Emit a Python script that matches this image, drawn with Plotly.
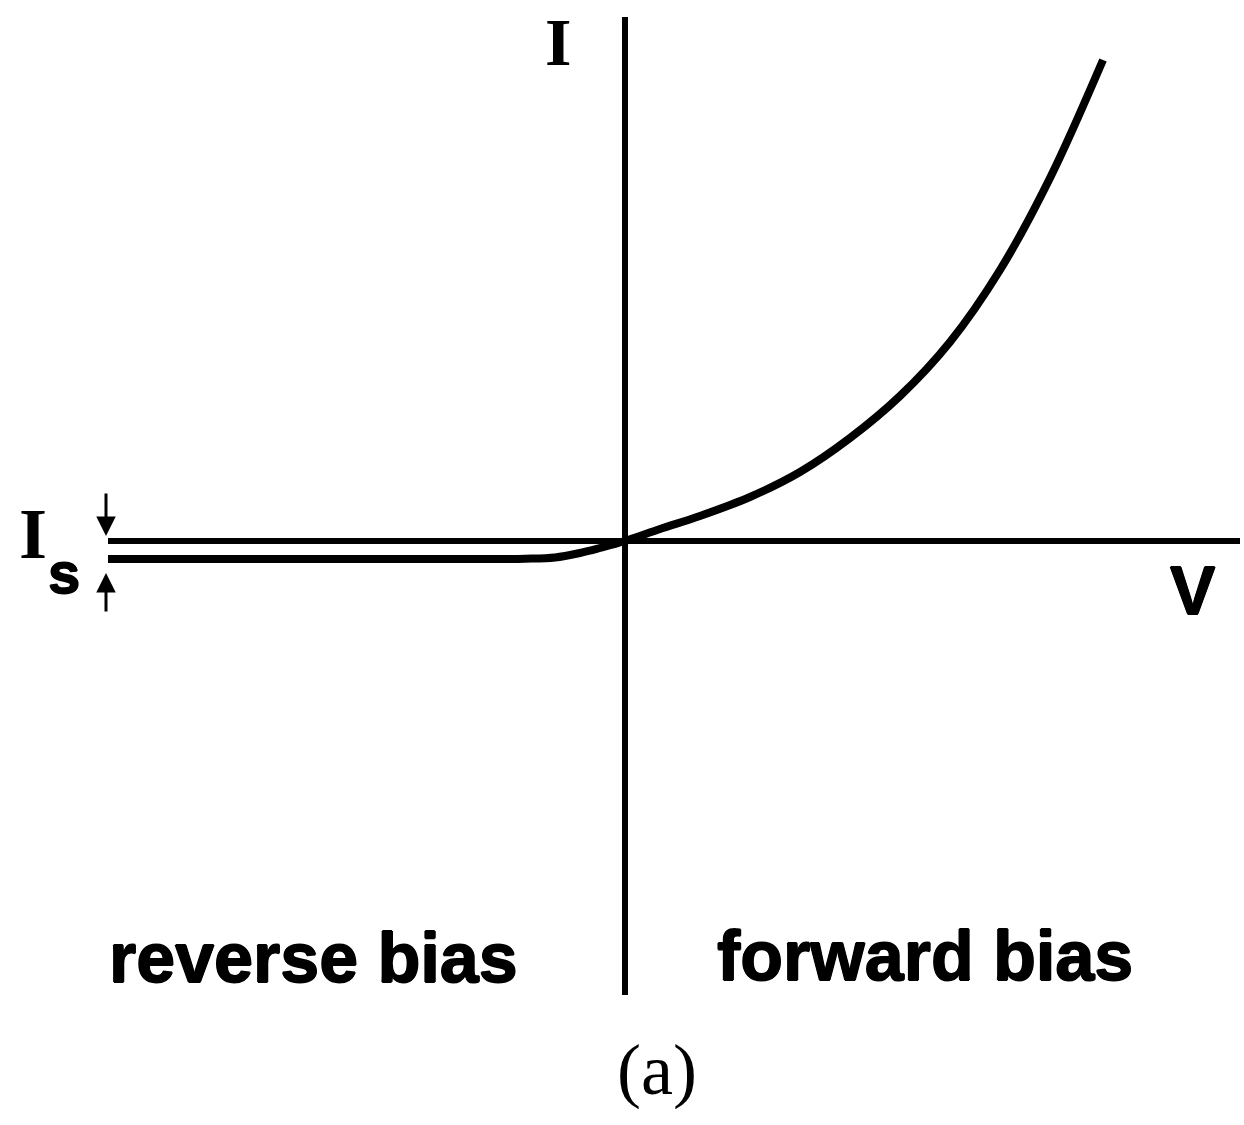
import plotly.graph_objects as go

# Diode I-V characteristic (arbitrary units)
v_reverse = [-5.17, -2.5, -1.4, -1.0, -0.7, -0.45, -0.25, 0.0]
i_reverse = [-0.18, -0.18, -0.18, -0.177, -0.165, -0.12, -0.07, 0.0]

v_forward = [0.0, 0.35, 0.75, 1.25, 1.75, 2.25, 2.75, 3.25, 3.75, 4.25, 4.78]
i_forward = [0.0, 0.12, 0.25, 0.44, 0.69, 1.03, 1.45, 1.99, 2.71, 3.63, 4.81]

# Saturation current level shown by the I_s marker
i_sat = -0.18

# Axis extents
v_axis = [-5.17, 6.15]
i_axis = [-4.54, 5.24]

W, H = 1244, 1125
INK = "#000000"
HEAVY = "0.8px 0 0 #000, -0.8px 0 0 #000, 0 0.8px 0 #000, 0 -0.8px 0 #000"

fig = go.Figure()

fig.add_trace(go.Scatter(
    x=v_reverse + v_forward[1:],
    y=i_reverse + i_forward[1:],
    mode="lines",
    line=dict(color=INK, width=8, shape="spline", smoothing=1.0),
    hoverinfo="skip",
    showlegend=False,
))

# Axes drawn as finite lines through the origin
fig.add_shape(type="line", x0=v_axis[0], x1=v_axis[1], y0=0, y1=0,
              line=dict(color=INK, width=6))
fig.add_shape(type="line", x0=0, x1=0, y0=i_axis[0], y1=i_axis[1],
              line=dict(color=INK, width=6))

# I_s arrows bracketing the saturation current
arrow_v = -5.19
fig.add_annotation(x=arrow_v, y=0.05, ax=arrow_v, ay=0.49, xref="x", yref="y",
                   axref="x", ayref="y", text="", showarrow=True,
                   arrowhead=2, arrowsize=1.3, arrowwidth=3, arrowcolor=INK)
fig.add_annotation(x=arrow_v, y=i_sat - 0.14, ax=arrow_v, ay=-0.72, xref="x", yref="y",
                   axref="x", ayref="y", text="", showarrow=True,
                   arrowhead=2, arrowsize=1.3, arrowwidth=3, arrowcolor=INK)


def label(text, px, py, family, size, bold=True, heavy=False):
    font = dict(family=family, size=size, color=INK)
    if heavy:
        font["shadow"] = HEAVY
    fig.add_annotation(
        x=px / W, y=1 - py / H, xref="paper", yref="paper",
        text=f"<b>{text}</b>" if bold else text,
        showarrow=False, xanchor="center", yanchor="middle",
        font=font,
    )


label("I", 558, 42, "Liberation Serif", 68)
label("I", 33, 534, "Liberation Serif", 72)
label("s", 64, 572, "Liberation Sans", 58, heavy=True)
label("V", 1192, 590, "Liberation Sans", 68, heavy=True)
label("reverse bias", 314, 958, "Liberation Sans", 70, heavy=True)
label("forward bias", 925, 956, "Liberation Sans", 70, heavy=True)
label("(a)", 657, 1070, "Liberation Serif", 72, bold=False)

fig.update_layout(
    width=W, height=H,
    margin=dict(l=0, r=0, t=0, b=0),
    paper_bgcolor="white", plot_bgcolor="white",
    xaxis=dict(range=[-6.25, 6.19], visible=False, fixedrange=True),
    yaxis=dict(range=[-5.84, 5.41], visible=False, fixedrange=True),
)

fig.write_html("out.html")
